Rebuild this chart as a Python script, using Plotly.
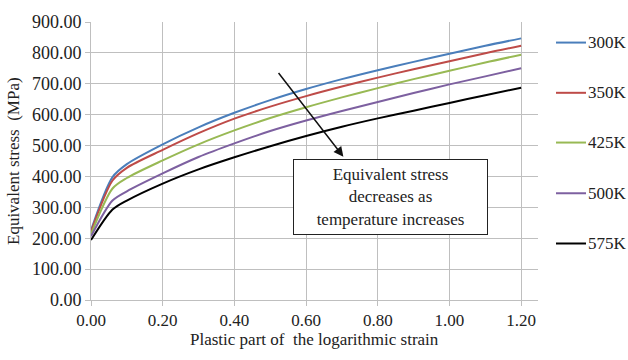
import plotly.graph_objects as go

# Plastic strain sample points (shared by all temperature curves)
strain = [0.0, 0.06, 0.1, 0.2, 0.3, 0.4, 0.5, 0.6, 0.7, 0.8, 0.9, 1.0, 1.1, 1.2]

# Equivalent stress (MPa) per temperature
stress_300K = [226, 398, 440, 504, 559, 606, 647, 683, 715, 744, 771, 797, 823, 847]
stress_350K = [221, 387, 428, 486, 540, 587, 626, 660, 691, 720, 747, 773, 799, 823]
stress_425K = [213, 361, 395, 452, 504, 549, 589, 624, 656, 686, 715, 742, 769, 794]
stress_500K = [206, 322, 352, 410, 463, 507, 547, 581, 612, 641, 670, 698, 724, 750]
stress_575K = [194, 293, 322, 377, 423, 462, 498, 531, 561, 588, 613, 638, 663, 687]

series_names = ["300K", "350K", "425K", "500K", "575K"]
series_values = [stress_300K, stress_350K, stress_425K, stress_500K, stress_575K]
series_colors = ["#4a7ebb", "#be4b48", "#98b954", "#7d60a0", "#000000"]

x_ticks = [0.0, 0.2, 0.4, 0.6, 0.8, 1.0, 1.2]
y_ticks = [0, 100, 200, 300, 400, 500, 600, 700, 800, 900]

FONT = "Liberation Serif, Times New Roman, serif"
GRID = "#bfbfbf"
TXT = "#222"

fig = go.Figure()
for name, vals, col in zip(series_names, series_values, series_colors):
    fig.add_trace(go.Scatter(x=strain, y=vals, mode="lines", name=name,
                             line=dict(color=col, width=2, shape="spline", smoothing=0.8),
                             showlegend=False))

# Manual legend to the right of the plot area
legend_y = [34, 86, 137.5, 190, 242]  # pixel rows of the legend entries
plot_l, plot_r, plot_t, plot_b = 91, 538, 12.7, 300.5
pw, ph = plot_r - plot_l, plot_b - plot_t
shapes = []
annotations = []
for name, col, py in zip(series_names, series_colors, legend_y):
    yp = (plot_b - py) / ph
    shapes.append(dict(type="line", xref="paper", yref="paper",
                       x0=(556 - plot_l) / pw, x1=(586 - plot_l) / pw, y0=yp, y1=yp,
                       line=dict(color=col, width=2)))
    annotations.append(dict(xref="paper", yref="paper", x=(586 - plot_l) / pw, y=yp,
                            text=name, showarrow=False, xanchor="left", yanchor="middle",
                            font=dict(family=FONT, size=17, color=TXT)))

# Arrow indicating the temperature trend
annotations.append(dict(x=0.704, y=464, xref="x", yref="y",
                        ax=0.52, ay=740, axref="x", ayref="y",
                        text="", showarrow=True, arrowhead=2, arrowsize=1.3,
                        arrowwidth=1.5, arrowcolor="#111"))

# Text box
annotations.append(dict(x=0.835, y=333, xref="x", yref="y",
                        text="Equivalent stress<br>decreases as<br>temperature increases",
                        showarrow=False, align="center", width=189, height=70,
                        bgcolor="white", bordercolor=TXT, borderwidth=1, borderpad=2,
                        font=dict(family=FONT, size=17, color=TXT)))

# Axis titles
annotations.append(dict(xref="paper", yref="paper", x=0, y=0.5, xshift=-78,
                        text="Equivalent stress\u00a0 (MPa)", textangle=-90,
                        showarrow=False, xanchor="center", yanchor="middle",
                        font=dict(family=FONT, size=17, color=TXT)))
annotations.append(dict(xref="paper", yref="paper", x=0.5, y=0, yshift=-39,
                        text="Plastic part of\u00a0 the logarithmic strain",
                        showarrow=False, xanchor="center", yanchor="middle",
                        font=dict(family=FONT, size=17, color=TXT)))

fig.update_layout(
    width=628, height=360,
    margin=dict(l=plot_l, r=628 - plot_r, t=plot_t, b=360 - plot_b),
    paper_bgcolor="white", plot_bgcolor="white",
    font=dict(family=FONT, size=17, color=TXT),
    shapes=shapes, annotations=annotations,
    xaxis=dict(range=[0, 1.247], tickvals=x_ticks, tickformat=".2f",
               showgrid=True, gridcolor=GRID, gridwidth=1,
               showline=True, linecolor=GRID, linewidth=1,
               ticks="outside", ticklen=5, tickcolor=GRID, zeroline=False,
               tickfont=dict(size=17)),
    yaxis=dict(range=[0, 900], tickvals=y_ticks, tickformat=".2f",
               showgrid=True, gridcolor=GRID, gridwidth=1,
               showline=True, linecolor=GRID, linewidth=1,
               ticks="outside", ticklen=5, tickcolor=GRID, zeroline=False,
               tickfont=dict(size=18)),
)

fig.write_html("out.html")
